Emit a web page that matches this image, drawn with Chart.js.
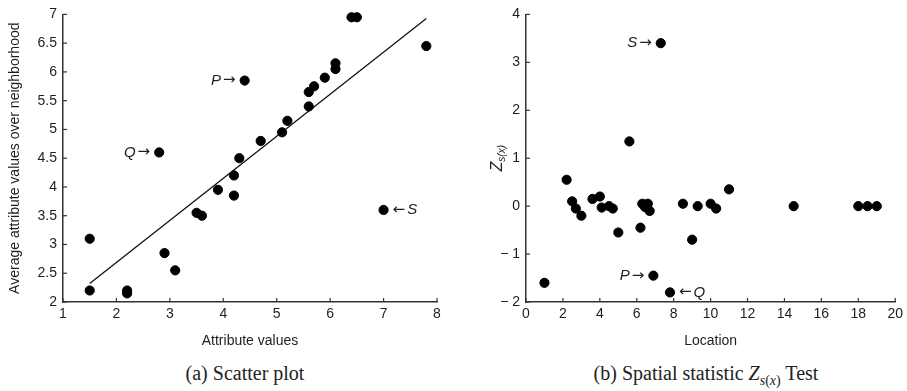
<!DOCTYPE html>
<html lang="en">
<head>
    <meta charset="UTF-8">
    <title>Scatter plot and spatial statistic test</title>
    <script src="https://cdn.jsdelivr.net/npm/chart.js"></script>
    <style>
        body {
            margin: 0;
            background: #fff;
            font-family: Arial, "Liberation Sans", sans-serif;
        }
        #wrap {
            position: relative;
            width: 907px;
            height: 391px;
            overflow: hidden;
        }
        canvas {
            position: absolute;
            top: 0;
        }
        .caption {
            position: absolute;
            top: 362px;
            font-family: "Liberation Serif", "DejaVu Serif", serif;
            font-size: 20px;
            color: #222;
            white-space: nowrap;
            transform: translateX(-50%);
        }
        .caption sub {
            font-size: 14px;
        }
    </style>
</head>
<body>
<div id="wrap">
    <canvas id="scatterChart" width="450" height="350" style="left:0"></canvas>
    <canvas id="zChart" width="457" height="350" style="left:450px"></canvas>
    <div class="caption" style="left:245px">(a) Scatter plot</div>
    <div class="caption" style="left:706px">(b) Spatial statistic <i>Z</i><sub><i>s</i>(<i>x</i>)</sub> Test</div>
</div>

<script>
    // (a) attribute value vs average of neighbours
    const attrValues = [6.4, 6.5, 7.8, 4.4, 6.1, 6.1, 5.9, 5.7, 5.6, 5.6, 5.2, 5.1, 4.7, 4.3, 2.8,
                        4.2, 3.9, 4.2, 7.0, 3.5, 3.6, 1.5, 2.9, 3.1, 1.5, 2.2, 2.2];
    const neighbourAvg = [6.95, 6.95, 6.45, 5.85, 6.15, 6.05, 5.9, 5.75, 5.65, 5.4, 5.15, 4.95, 4.8, 4.5, 4.6,
                          4.2, 3.95, 3.85, 3.6, 3.55, 3.5, 3.1, 2.85, 2.55, 2.2, 2.2, 2.15];
    const fitX = [1.5, 7.8];
    const fitY = [2.32, 6.93];

    // (b) Zs(x) by location
    const locations = [7.3, 5.6, 2.2, 11.0, 2.5, 2.7, 3.0, 3.6, 4.0, 4.1, 4.5, 4.7, 5.0, 6.2, 6.3,
                       6.6, 6.45, 6.7, 6.9, 7.8, 1.0, 8.5, 9.0, 9.3, 10.0, 10.3, 14.5, 18.0, 18.5, 19.0];
    const zScores = [3.4, 1.35, 0.55, 0.35, 0.1, -0.05, -0.2, 0.15, 0.2, -0.03, 0.0, -0.05, -0.55, -0.45, 0.05,
                     0.05, -0.02, -0.1, -1.45, -1.8, -1.6, 0.05, -0.7, 0.0, 0.05, -0.05, 0.0, 0.0, 0.0, 0.0];

    // outlier labels: [x, y, letter, side]
    const scatterNotes = [[4.4, 5.85, 'P', 'left'], [2.8, 4.6, 'Q', 'left'], [7.0, 3.6, 'S', 'right']];
    const zNotes = [[7.3, 3.4, 'S', 'left'], [6.9, -1.45, 'P', 'left'], [7.8, -1.8, 'Q', 'right']];

    const ink = '#1e1e1e';
    const tickFont = { family: 'Arial, "Liberation Sans", sans-serif', size: 14 };

    function toPoints(xs, ys) {
        return xs.map((x, i) => ({ x: x, y: ys[i] }));
    }

    // inward tick marks, outlier labels and the Zs(x) y title
    const extrasPlugin = {
        id: 'extras',
        afterDraw(chart, args, opts) {
            const c = chart.ctx;
            const xs = chart.scales.x, ys = chart.scales.y;
            const area = chart.chartArea;
            c.save();
            c.strokeStyle = '#333';
            c.lineWidth = 1.2;
            xs.ticks.forEach(t => {
                const px = xs.getPixelForValue(t.value);
                c.beginPath();
                c.moveTo(px, area.bottom);
                c.lineTo(px, area.bottom - 4);
                c.stroke();
            });
            ys.ticks.forEach(t => {
                const py = ys.getPixelForValue(t.value);
                c.beginPath();
                c.moveTo(area.left, py);
                c.lineTo(area.left + 4, py);
                c.stroke();
            });

            c.fillStyle = ink;
            c.textBaseline = 'middle';
            (opts.notes || []).forEach(n => {
                const px = xs.getPixelForValue(n[0]);
                const py = ys.getPixelForValue(n[1]);
                if (n[3] === 'left') {
                    c.textAlign = 'right';
                    c.font = '15px "DejaVu Sans", sans-serif';
                    c.fillText('\u2192', px - 9, py);
                    const w = c.measureText('\u2192').width;
                    c.font = 'italic 15px Arial, "Liberation Sans", sans-serif';
                    c.fillText(n[2], px - 11 - w, py);
                } else {
                    c.textAlign = 'left';
                    c.font = '15px "DejaVu Sans", sans-serif';
                    c.fillText('\u2190', px + 9, py);
                    const w = c.measureText('\u2190').width;
                    c.font = 'italic 15px Arial, "Liberation Sans", sans-serif';
                    c.fillText(n[2], px + 11 + w, py);
                }
            });

            if (opts.zTitle) {
                c.translate(46, (area.top + area.bottom) / 2);
                c.rotate(-Math.PI / 2);
                c.textAlign = 'left';
                c.textBaseline = 'alphabetic';
                c.font = 'italic 16px Arial, "Liberation Sans", sans-serif';
                const zw = c.measureText('Z').width;
                c.font = 'italic 10px Arial, "Liberation Sans", sans-serif';
                const sw = c.measureText('s(x)').width;
                const x0 = -(zw + sw) / 2;
                c.font = 'italic 16px Arial, "Liberation Sans", sans-serif';
                c.fillText('Z', x0, 6);
                c.font = 'italic 10px Arial, "Liberation Sans", sans-serif';
                c.fillText('s(x)', x0 + zw, 9);
            }
            c.restore();
        }
    };

    function axis(min, max, step, yWidth, title, isY, fmt) {
        const a = {
            type: 'linear',
            min: min,
            max: max,
            grid: { display: true, drawOnChartArea: false, drawTicks: false },
            border: { display: true, color: '#333', width: 1.5 },
            ticks: {
                stepSize: step,
                color: ink,
                font: tickFont,
                padding: isY ? 6 : 4,
                autoSkip: false,
                maxRotation: 0,
                callback: fmt || (v => v)
            },
            title: {
                display: !!title,
                text: title,
                color: ink,
                font: tickFont,
                padding: isY ? { top: 7, bottom: 0 } : { top: 3, bottom: 0 }
            }
        };
        if (isY) {
            a.afterFit = s => { s.width = yWidth; };
        } else {
            a.afterFit = s => { s.height = 48; };
        }
        return a;
    }

    const dotStyle = {
        backgroundColor: '#000',
        borderColor: '#000',
        pointRadius: 4.6,
        pointHoverRadius: 4.6,
        showLine: false,
        clip: false
    };

    new Chart(document.getElementById('scatterChart'), {
        type: 'scatter',
        data: {
            datasets: [
                Object.assign({ data: toPoints(attrValues, neighbourAvg) }, dotStyle),
                {
                    type: 'line',
                    data: toPoints(fitX, fitY),
                    borderColor: '#111',
                    borderWidth: 1.3,
                    pointRadius: 0,
                    fill: false
                }
            ]
        },
        options: {
            responsive: false,
            animation: false,
            devicePixelRatio: 1,
            layout: { padding: { top: 10, right: 13, left: 0, bottom: 0 } },
            plugins: {
                legend: { display: false },
                tooltip: { enabled: false },
                extras: { notes: scatterNotes }
            },
            scales: {
                x: axis(1, 8, 1, 0, 'Attribute values', false),
                y: axis(2, 7, 0.5, 63, 'Average attribute values over neighborhood', true)
            }
        },
        plugins: [extrasPlugin]
    });

    new Chart(document.getElementById('zChart'), {
        type: 'scatter',
        data: {
            datasets: [Object.assign({ data: toPoints(locations, zScores) }, dotStyle)]
        },
        options: {
            responsive: false,
            animation: false,
            devicePixelRatio: 1,
            layout: { padding: { top: 10, right: 9, left: 0, bottom: 0 } },
            plugins: {
                legend: { display: false },
                tooltip: { enabled: false },
                extras: { notes: zNotes, zTitle: true }
            },
            scales: {
                x: axis(0, 20, 2, 0, 'Location', false),
                y: axis(-2, 4, 1, 76, '', true, v => v < 0 ? '\u2212 ' + Math.abs(v) : v)
            }
        },
        plugins: [extrasPlugin]
    });
</script>
</body>
</html>
